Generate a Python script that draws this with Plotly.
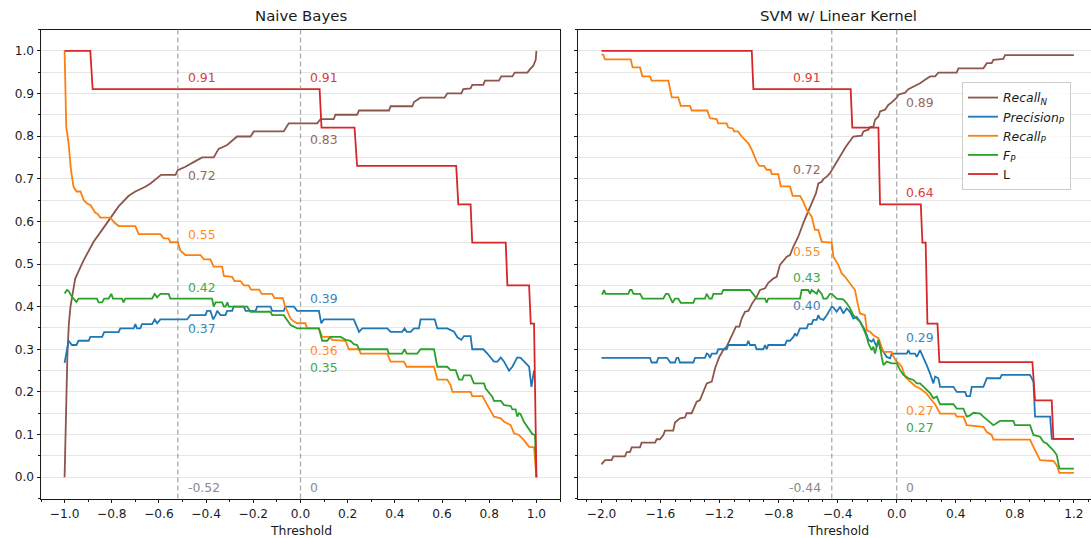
import plotly.graph_objects as go
import numpy as np

# ---------------------------------------------------------------------------
# Metric curves as (threshold, value) pairs
# ---------------------------------------------------------------------------

# Naive Bayes
nb_recall_n = [(-1.0, 0.0), (-0.996, 0.10), (-0.993, 0.18), (-0.988, 0.29), (-0.982, 0.36),
               (-0.975, 0.40), (-0.966, 0.43), (-0.955, 0.466), (-0.919, 0.509), (-0.877, 0.552),
               (-0.841, 0.58), (-0.813, 0.602), (-0.771, 0.635), (-0.728, 0.66), (-0.700, 0.67),
               (-0.658, 0.681), (-0.636, 0.689), (-0.591, 0.709), (-0.530, 0.709), (-0.520, 0.72),
               (-0.488, 0.728), (-0.453, 0.739), (-0.417, 0.75), (-0.368, 0.75), (-0.347, 0.77),
               (-0.311, 0.779), (-0.269, 0.799), (-0.212, 0.799), (-0.198, 0.811), (-0.071, 0.811),
               (-0.050, 0.83), (0.071, 0.83), (0.085, 0.84), (0.141, 0.84), (0.148, 0.85),
               (0.240, 0.85), (0.248, 0.86), (0.375, 0.86), (0.382, 0.87), (0.474, 0.87),
               (0.481, 0.88), (0.509, 0.89), (0.611, 0.89), (0.622, 0.90), (0.682, 0.90),
               (0.690, 0.91), (0.721, 0.912), (0.728, 0.92), (0.775, 0.92), (0.782, 0.93),
               (0.841, 0.93), (0.851, 0.94), (0.898, 0.94), (0.908, 0.949), (0.962, 0.949),
               (0.973, 0.957), (0.987, 0.965), (0.997, 0.979), (1.0, 1.0)]

nb_precision_p = [(-1.0, 0.268), (-0.983, 0.32), (-0.969, 0.31), (-0.950, 0.31), (-0.941, 0.32),
                  (-0.898, 0.32), (-0.891, 0.329), (-0.841, 0.329), (-0.832, 0.34), (-0.771, 0.34),
                  (-0.764, 0.349), (-0.707, 0.349), (-0.700, 0.359), (-0.693, 0.349), (-0.679, 0.349),
                  (-0.672, 0.359), (-0.629, 0.359), (-0.618, 0.37), (-0.608, 0.361), (-0.594, 0.37),
                  (-0.481, 0.37), (-0.467, 0.38), (-0.403, 0.38), (-0.396, 0.39), (-0.382, 0.39),
                  (-0.370, 0.37), (-0.360, 0.38), (-0.353, 0.39), (-0.339, 0.38), (-0.318, 0.38),
                  (-0.311, 0.39), (-0.290, 0.39), (-0.283, 0.40), (-0.240, 0.40), (-0.233, 0.39),
                  (-0.190, 0.39), (-0.184, 0.40), (-0.127, 0.40), (-0.120, 0.39), (-0.071, 0.39),
                  (-0.064, 0.40), (-0.028, 0.40), (-0.014, 0.39), (0.078, 0.39), (0.088, 0.361),
                  (0.099, 0.37), (0.226, 0.37), (0.248, 0.341), (0.262, 0.349), (0.368, 0.349),
                  (0.382, 0.341), (0.431, 0.341), (0.441, 0.349), (0.450, 0.341), (0.467, 0.341),
                  (0.481, 0.349), (0.502, 0.349), (0.509, 0.37), (0.569, 0.37), (0.580, 0.349),
                  (0.622, 0.349), (0.651, 0.341), (0.665, 0.328), (0.682, 0.322), (0.693, 0.331),
                  (0.721, 0.331), (0.728, 0.30), (0.775, 0.30), (0.792, 0.29), (0.806, 0.281),
                  (0.820, 0.271), (0.835, 0.271), (0.849, 0.281), (0.863, 0.271), (0.877, 0.259),
                  (0.884, 0.25), (0.898, 0.259), (0.919, 0.281), (0.933, 0.28), (0.947, 0.271),
                  (0.962, 0.263), (0.969, 0.259), (0.979, 0.212), (0.990, 0.25)]

nb_recall_p = [(-1.0, 1.0), (-0.993, 0.822), (-0.983, 0.783), (-0.973, 0.721), (-0.962, 0.681),
               (-0.950, 0.67), (-0.933, 0.67), (-0.919, 0.65), (-0.905, 0.642), (-0.890, 0.638),
               (-0.870, 0.62), (-0.860, 0.618), (-0.849, 0.609), (-0.806, 0.609), (-0.792, 0.599),
               (-0.771, 0.589), (-0.700, 0.589), (-0.686, 0.57), (-0.594, 0.57), (-0.580, 0.56),
               (-0.559, 0.56), (-0.552, 0.551), (-0.520, 0.551), (-0.509, 0.531), (-0.488, 0.521),
               (-0.424, 0.521), (-0.410, 0.511), (-0.382, 0.511), (-0.368, 0.494), (-0.332, 0.494),
               (-0.325, 0.472), (-0.290, 0.47), (-0.280, 0.46), (-0.255, 0.46), (-0.240, 0.45),
               (-0.220, 0.45), (-0.210, 0.44), (-0.175, 0.44), (-0.165, 0.43), (-0.120, 0.43),
               (-0.110, 0.42), (-0.075, 0.42), (-0.065, 0.40), (-0.050, 0.38), (-0.042, 0.372),
               (-0.028, 0.365), (-0.014, 0.361), (0.021, 0.361), (0.028, 0.349), (0.078, 0.349),
               (0.092, 0.329), (0.127, 0.329), (0.134, 0.322), (0.191, 0.32), (0.205, 0.30),
               (0.248, 0.30), (0.255, 0.29), (0.368, 0.29), (0.382, 0.271), (0.438, 0.271),
               (0.450, 0.259), (0.566, 0.259), (0.580, 0.229), (0.622, 0.229), (0.636, 0.216),
               (0.644, 0.20), (0.721, 0.20), (0.728, 0.19), (0.771, 0.19), (0.792, 0.169),
               (0.820, 0.142), (0.849, 0.138), (0.863, 0.13), (0.891, 0.122), (0.905, 0.103),
               (0.926, 0.099), (0.947, 0.087), (0.969, 0.071), (0.990, 0.07), (1.0, 0.0)]

nb_f_p = [(-1.0, 0.431), (-0.990, 0.439), (-0.983, 0.437), (-0.969, 0.423), (-0.950, 0.411),
          (-0.941, 0.419), (-0.863, 0.419), (-0.856, 0.41), (-0.841, 0.41), (-0.832, 0.419),
          (-0.813, 0.419), (-0.802, 0.43), (-0.795, 0.419), (-0.757, 0.419), (-0.750, 0.41),
          (-0.743, 0.419), (-0.629, 0.419), (-0.618, 0.43), (-0.608, 0.422), (-0.594, 0.43),
          (-0.559, 0.43), (-0.552, 0.419), (-0.375, 0.419), (-0.368, 0.40), (-0.360, 0.41),
          (-0.332, 0.41), (-0.325, 0.40), (-0.318, 0.40), (-0.310, 0.41), (-0.304, 0.40),
          (-0.226, 0.40), (-0.212, 0.388), (-0.127, 0.388), (-0.120, 0.38), (-0.071, 0.38),
          (-0.056, 0.369), (-0.042, 0.357), (-0.014, 0.349), (0.078, 0.349), (0.092, 0.32),
          (0.113, 0.32), (0.127, 0.329), (0.170, 0.329), (0.191, 0.322), (0.212, 0.32),
          (0.226, 0.312), (0.240, 0.31), (0.248, 0.30), (0.368, 0.30), (0.375, 0.29),
          (0.431, 0.29), (0.441, 0.30), (0.450, 0.29), (0.495, 0.29), (0.509, 0.30),
          (0.566, 0.30), (0.580, 0.259), (0.622, 0.259), (0.636, 0.251), (0.658, 0.251),
          (0.672, 0.229), (0.686, 0.229), (0.693, 0.239), (0.721, 0.239), (0.735, 0.22),
          (0.778, 0.22), (0.785, 0.208), (0.813, 0.189), (0.820, 0.179), (0.849, 0.179),
          (0.863, 0.169), (0.891, 0.167), (0.898, 0.159), (0.912, 0.159), (0.919, 0.142),
          (0.926, 0.15), (0.933, 0.148), (0.947, 0.13), (0.962, 0.118), (0.983, 0.101),
          (0.994, 0.099), (1.0, 0.0)]

nb_l = [(-1.0, 1.0), (-0.891, 1.0), (-0.881, 0.91), (0.081, 0.91), (0.089, 0.82), (0.229, 0.82),
        (0.240, 0.73), (0.660, 0.73), (0.669, 0.64), (0.721, 0.64), (0.728, 0.55), (0.870, 0.55),
        (0.877, 0.45), (0.969, 0.45), (0.976, 0.36), (0.990, 0.36), (1.0, 0.0)]

# SVM with linear kernel
svm_recall_n = [(-2.0, 0.03), (-1.976, 0.04), (-1.931, 0.04), (-1.920, 0.049), (-1.841, 0.049),
                (-1.829, 0.059), (-1.807, 0.059), (-1.795, 0.07), (-1.739, 0.07), (-1.728, 0.081),
                (-1.637, 0.081), (-1.626, 0.089), (-1.604, 0.089), (-1.581, 0.099), (-1.570, 0.109),
                (-1.514, 0.109), (-1.502, 0.128), (-1.468, 0.138), (-1.434, 0.14), (-1.423, 0.15),
                (-1.389, 0.15), (-1.355, 0.177), (-1.333, 0.181), (-1.310, 0.20), (-1.287, 0.22),
                (-1.253, 0.224), (-1.231, 0.255), (-1.202, 0.282), (-1.175, 0.298), (-1.152, 0.306),
                (-1.129, 0.322), (-1.107, 0.341), (-1.089, 0.353), (-1.066, 0.353), (-1.050, 0.372),
                (-1.028, 0.388), (-1.005, 0.39), (-0.982, 0.406), (-0.949, 0.423), (-0.926, 0.439),
                (-0.892, 0.443), (-0.870, 0.456), (-0.836, 0.466), (-0.813, 0.47), (-0.791, 0.498),
                (-0.745, 0.517), (-0.723, 0.521), (-0.700, 0.541), (-0.667, 0.564), (-0.633, 0.596),
                (-0.599, 0.623), (-0.565, 0.65), (-0.547, 0.666), (-0.531, 0.689), (-0.508, 0.693),
                (-0.497, 0.699), (-0.474, 0.705), (-0.452, 0.713), (-0.440, 0.72), (-0.429, 0.728),
                (-0.407, 0.74), (-0.396, 0.748), (-0.373, 0.76), (-0.350, 0.772), (-0.328, 0.783),
                (-0.294, 0.799), (-0.237, 0.801), (-0.226, 0.811), (-0.192, 0.815), (-0.181, 0.821),
                (-0.158, 0.822), (-0.147, 0.838), (-0.124, 0.846), (-0.113, 0.858), (-0.079, 0.862),
                (-0.057, 0.873), (-0.034, 0.879), (0.0, 0.89), (0.011, 0.897), (0.057, 0.902),
                (0.079, 0.91), (0.113, 0.916), (0.158, 0.924), (0.192, 0.932), (0.226, 0.94),
                (0.260, 0.94), (0.282, 0.949), (0.406, 0.949), (0.418, 0.959), (0.587, 0.959),
                (0.610, 0.971), (0.643, 0.971), (0.655, 0.979), (0.722, 0.981), (0.734, 0.99),
                (1.2, 0.99)]

svm_precision_p = [(-2.0, 0.28), (-1.671, 0.28), (-1.660, 0.269), (-1.626, 0.269), (-1.615, 0.28),
                   (-1.556, 0.28), (-1.533, 0.269), (-1.502, 0.269), (-1.491, 0.28), (-1.480, 0.28),
                   (-1.468, 0.269), (-1.378, 0.269), (-1.366, 0.28), (-1.299, 0.28), (-1.287, 0.29),
                   (-1.276, 0.288), (-1.265, 0.28), (-1.253, 0.29), (-1.220, 0.29), (-1.209, 0.30),
                   (-1.152, 0.30), (-1.141, 0.31), (-1.017, 0.31), (-1.005, 0.32), (-0.994, 0.31),
                   (-0.960, 0.31), (-0.949, 0.30), (-0.904, 0.30), (-0.892, 0.31), (-0.881, 0.30),
                   (-0.870, 0.31), (-0.757, 0.31), (-0.745, 0.32), (-0.723, 0.32), (-0.700, 0.329),
                   (-0.689, 0.337), (-0.678, 0.331), (-0.655, 0.349), (-0.610, 0.349), (-0.599, 0.359),
                   (-0.576, 0.359), (-0.565, 0.369), (-0.542, 0.369), (-0.531, 0.38), (-0.520, 0.372),
                   (-0.497, 0.369), (-0.474, 0.38), (-0.452, 0.392), (-0.440, 0.40), (-0.429, 0.398),
                   (-0.407, 0.388), (-0.384, 0.40), (-0.362, 0.384), (-0.339, 0.396), (-0.316, 0.388),
                   (-0.294, 0.372), (-0.271, 0.376), (-0.249, 0.365), (-0.226, 0.349), (-0.215, 0.345),
                   (-0.192, 0.322), (-0.170, 0.318), (-0.158, 0.323), (-0.136, 0.306), (-0.124, 0.322),
                   (-0.113, 0.302), (-0.090, 0.294), (-0.068, 0.282), (-0.045, 0.279), (-0.034, 0.29),
                   (0.0, 0.29), (0.068, 0.29), (0.079, 0.298), (0.090, 0.29), (0.124, 0.29),
                   (0.136, 0.282), (0.158, 0.298), (0.181, 0.282), (0.203, 0.263), (0.226, 0.243),
                   (0.248, 0.22), (0.260, 0.236), (0.282, 0.232), (0.294, 0.212), (0.384, 0.212),
                   (0.407, 0.20), (0.463, 0.20), (0.474, 0.19), (0.497, 0.19), (0.508, 0.212),
                   (0.587, 0.212), (0.610, 0.232), (0.700, 0.232), (0.711, 0.24), (0.903, 0.24),
                   (0.926, 0.224), (0.937, 0.142), (1.039, 0.142), (1.050, 0.09), (1.2, 0.09)]

svm_recall_p = [(-2.0, 0.991), (-1.988, 0.991), (-1.976, 0.98), (-1.802, 0.98), (-1.789, 0.961),
                (-1.739, 0.961), (-1.723, 0.94), (-1.671, 0.94), (-1.660, 0.93), (-1.547, 0.93),
                (-1.524, 0.891), (-1.480, 0.891), (-1.463, 0.871), (-1.400, 0.871), (-1.389, 0.86),
                (-1.283, 0.86), (-1.265, 0.842), (-1.220, 0.84), (-1.209, 0.83), (-1.152, 0.83),
                (-1.141, 0.82), (-1.111, 0.818), (-1.102, 0.811), (-1.075, 0.811), (-1.050, 0.799),
                (-1.028, 0.791), (-1.005, 0.783), (-0.982, 0.768), (-0.967, 0.756), (-0.949, 0.74),
                (-0.931, 0.73), (-0.899, 0.73), (-0.881, 0.721), (-0.855, 0.721), (-0.847, 0.711),
                (-0.802, 0.711), (-0.786, 0.682), (-0.723, 0.682), (-0.705, 0.66), (-0.655, 0.66),
                (-0.633, 0.646), (-0.610, 0.627), (-0.576, 0.611), (-0.554, 0.58), (-0.531, 0.58),
                (-0.508, 0.552), (-0.440, 0.55), (-0.429, 0.517), (-0.396, 0.498), (-0.373, 0.478),
                (-0.350, 0.47), (-0.328, 0.459), (-0.305, 0.447), (-0.283, 0.439), (-0.260, 0.40),
                (-0.249, 0.384), (-0.215, 0.38), (-0.203, 0.345), (-0.181, 0.341), (-0.158, 0.333),
                (-0.124, 0.326), (-0.102, 0.306), (-0.090, 0.294), (-0.034, 0.294), (-0.023, 0.284),
                (0.0, 0.27), (0.011, 0.268), (0.034, 0.259), (0.056, 0.236), (0.079, 0.228),
                (0.102, 0.22), (0.124, 0.214), (0.158, 0.208), (0.203, 0.196), (0.226, 0.185),
                (0.260, 0.171), (0.294, 0.149), (0.395, 0.149), (0.407, 0.142), (0.452, 0.142),
                (0.474, 0.122), (0.587, 0.118), (0.610, 0.106), (0.643, 0.099), (0.655, 0.088),
                (0.903, 0.088), (0.926, 0.071), (0.948, 0.056), (0.971, 0.04), (1.061, 0.038),
                (1.084, 0.028), (1.102, 0.01), (1.2, 0.01)]

svm_f_p = [(-2.0, 0.43), (-1.992, 0.43), (-1.983, 0.439), (-1.972, 0.43), (-1.818, 0.43),
           (-1.807, 0.439), (-1.795, 0.439), (-1.784, 0.43), (-1.739, 0.43), (-1.721, 0.419),
           (-1.581, 0.419), (-1.563, 0.43), (-1.547, 0.43), (-1.531, 0.419), (-1.518, 0.409),
           (-1.502, 0.419), (-1.480, 0.419), (-1.463, 0.409), (-1.378, 0.409), (-1.366, 0.419),
           (-1.299, 0.419), (-1.287, 0.43), (-1.269, 0.419), (-1.253, 0.419), (-1.242, 0.43),
           (-1.186, 0.43), (-1.175, 0.439), (-0.994, 0.439), (-0.976, 0.43), (-0.949, 0.419),
           (-0.892, 0.419), (-0.881, 0.409), (-0.870, 0.419), (-0.655, 0.419), (-0.644, 0.439),
           (-0.599, 0.439), (-0.587, 0.43), (-0.576, 0.439), (-0.542, 0.43), (-0.531, 0.439),
           (-0.508, 0.43), (-0.497, 0.419), (-0.474, 0.419), (-0.452, 0.43), (-0.440, 0.43),
           (-0.429, 0.427), (-0.407, 0.419), (-0.362, 0.417), (-0.339, 0.408), (-0.316, 0.396),
           (-0.294, 0.38), (-0.271, 0.372), (-0.249, 0.365), (-0.226, 0.349), (-0.203, 0.329),
           (-0.192, 0.314), (-0.170, 0.298), (-0.158, 0.306), (-0.147, 0.29), (-0.124, 0.322),
           (-0.113, 0.306), (-0.102, 0.282), (-0.090, 0.263), (-0.068, 0.271), (-0.034, 0.267),
           (0.0, 0.267), (0.023, 0.251), (0.045, 0.24), (0.079, 0.232), (0.113, 0.228),
           (0.136, 0.22), (0.158, 0.22), (0.181, 0.212), (0.203, 0.204), (0.226, 0.197),
           (0.248, 0.185), (0.271, 0.189), (0.294, 0.171), (0.384, 0.171), (0.407, 0.161),
           (0.452, 0.161), (0.474, 0.142), (0.497, 0.145), (0.519, 0.151), (0.565, 0.149),
           (0.587, 0.142), (0.632, 0.13), (0.655, 0.122), (0.700, 0.132), (0.790, 0.132),
           (0.801, 0.122), (0.903, 0.122), (0.926, 0.099), (0.971, 0.095), (0.993, 0.083),
           (1.016, 0.079), (1.061, 0.063), (1.084, 0.052), (1.102, 0.02), (1.2, 0.02)]

svm_l = [(-2.0, 1.0), (-0.982, 1.0), (-0.971, 0.91), (-0.312, 0.91), (-0.301, 0.82), (-0.124, 0.82),
         (-0.113, 0.64), (0.163, 0.64), (0.174, 0.55), (0.196, 0.55), (0.208, 0.36), (0.276, 0.36),
         (0.289, 0.27), (0.919, 0.27), (0.937, 0.18), (1.050, 0.18), (1.061, 0.09), (1.2, 0.09)]

# Marked thresholds per model
nb_thresholds = [-0.52, 0.0]
svm_thresholds = [-0.44, 0.0]

# Series metadata (legend order)
series_keys = ["recall_n", "precision_p", "recall_p", "f_p", "l"]
series_names = {
    "recall_n": "<i>Recall</i><sub><i>N</i></sub>",
    "precision_p": "<i>Precision</i><sub><i>P</i></sub>",
    "recall_p": "<i>Recall</i><sub><i>P</i></sub>",
    "f_p": "<i>F</i><sub><i>P</i></sub>",
    "l": "L",
}
series_colors = {
    "recall_n": "#8c564b",
    "precision_p": "#1f77b4",
    "recall_p": "#ff7f0e",
    "f_p": "#2ca02c",
    "l": "#d62728",
}

# Vertical offset (px) of each value label next to the threshold line
label_yshift = {
    ("nb", 0): {"l": 11.6, "recall_n": -5, "recall_p": 7.4, "f_p": 11.4, "precision_p": -9.3},
    ("nb", 1): {"l": 11.6, "recall_n": -16, "precision_p": 12, "recall_p": -27, "f_p": -39},
    ("svm", 0): {"l": 11.6, "recall_n": 1, "recall_p": -9.3, "f_p": 16.1, "precision_p": 1.3},
    ("svm", 1): {"recall_n": -4.3, "l": 11.7, "precision_p": 15.8, "recall_p": -48.3, "f_p": -64.3},
}

W, H = 1091, 538
FONT = "DejaVu Sans"
INK = "#1a1a1a"
GRID = "#e6e6e6"
VLINE = "rgba(128,128,128,0.65)"

panels = [
    dict(key="nb", title="Naive Bayes", xa="x", ya="y",
         data={"recall_n": nb_recall_n, "precision_p": nb_precision_p, "recall_p": nb_recall_p,
               "f_p": nb_f_p, "l": nb_l},
         thresholds=nb_thresholds, center_px=300.5),
    dict(key="svm", title="SVM w/ Linear Kernel", xa="x2", ya="y2",
         data={"recall_n": svm_recall_n, "precision_p": svm_precision_p, "recall_p": svm_recall_p,
               "f_p": svm_f_p, "l": svm_l},
         thresholds=svm_thresholds, center_px=838),
]

fig = go.Figure()
annotations = []
shapes = []

for pi, panel in enumerate(panels):
    for key in series_keys:
        pts = np.array(panel["data"][key])
        fig.add_trace(go.Scatter(
            x=pts[:, 0], y=pts[:, 1], mode="lines",
            name=series_names[key],
            line=dict(color=series_colors[key], width=1.8),
            xaxis=panel["xa"], yaxis=panel["ya"],
            showlegend=(pi == 0),
            hoverinfo="skip",
        ))

    for ti, t in enumerate(panel["thresholds"]):
        # labels sit left of the line for the SVM's first threshold, right otherwise
        on_left = panel["key"] == "svm" and ti == 0
        xanchor = "right" if on_left else "left"
        xshift = -8.4 if on_left else 7.7

        shapes.append(dict(type="line", xref=panel["xa"], yref=f"{panel['ya']} domain",
                           x0=t, x1=t, y0=0, y1=1,
                           line=dict(color=VLINE, width=1.3, dash="5px,3px")))
        annotations.append(dict(xref=panel["xa"], yref=panel["ya"], x=t, y=-0.025,
                                text=f"{t:g}", showarrow=False, xanchor=xanchor, yanchor="middle",
                                xshift=xshift, font=dict(family=FONT, size=12.4, color="#8a8a8a")))

        for key, dy in label_yshift[(panel["key"], ti)].items():
            pts = np.array(panel["data"][key])
            val = float(np.interp(t, pts[:, 0], pts[:, 1]))
            annotations.append(dict(xref=panel["xa"], yref=panel["ya"], x=t, y=val,
                                    text=f"{val:.2f}", showarrow=False,
                                    xanchor=xanchor, yanchor="middle",
                                    xshift=xshift, yshift=dy, opacity=0.9,
                                    font=dict(family=FONT, size=12.4, color=series_colors[key])))

    annotations.append(dict(xref="paper", yref="paper", x=panel["center_px"] / W, y=1 - 16 / H,
                            text=panel["title"], showarrow=False, xanchor="center", yanchor="middle",
                            font=dict(family=FONT, size=14.9, color=INK)))
    annotations.append(dict(xref="paper", yref="paper", x=panel["center_px"] / W, y=1 - 530 / H,
                            text="Threshold", showarrow=False, xanchor="center", yanchor="middle",
                            font=dict(family=FONT, size=12.4, color=INK)))

y_dom = [1 - 498.5 / H, 1 - 29.5 / H]
tickfont = dict(family=FONT, size=12.2, color=INK)

common_x = dict(ticks="outside", ticklen=3.5, tickwidth=0.8, tickcolor=INK,
                showline=True, linecolor=INK, linewidth=1, mirror=True,
                showgrid=False, zeroline=False, tickformat=".1f", tick0=0,
                tickfont=tickfont,
                minor=dict(dtick=0.1, ticks="outside", ticklen=2, tickwidth=0.6,
                           tickcolor=INK, showgrid=False))
common_y = dict(range=[-0.05, 1.05], domain=y_dom, dtick=0.1, tick0=0, tickformat=".1f",
                ticks="outside", ticklen=3.5, tickwidth=0.8, tickcolor=INK,
                showline=True, linecolor=INK, linewidth=1,
                showgrid=True, gridcolor=GRID, gridwidth=1, zeroline=False,
                tickfont=tickfont,
                minor=dict(dtick=0.05, ticks="outside", ticklen=2, tickwidth=0.6,
                           tickcolor=INK, showgrid=True, gridcolor=GRID, gridwidth=1))

fig.update_layout(
    width=W, height=H,
    margin=dict(l=0, r=0, t=0, b=0),
    template="none",
    paper_bgcolor="white", plot_bgcolor="white",
    font=dict(family=FONT, size=12.4, color=INK),
    xaxis=dict(domain=[41 / W, 560 / W], range=[-1.1, 1.1], dtick=0.2, anchor="y", **common_x),
    yaxis=dict(anchor="x", mirror=True, **common_y),
    xaxis2=dict(domain=[578.3 / W, 1.0], range=[-2.157, 1.316], dtick=0.4, anchor="y2", **common_x),
    yaxis2=dict(anchor="x2", mirror=False, showticklabels=False, **common_y),
    legend=dict(x=962 / W, y=1 - 82 / H, xanchor="left", yanchor="top",
                bgcolor="rgba(255,255,255,0.8)", bordercolor="#cccccc", borderwidth=1,
                font=dict(family=FONT, size=12.4, color=INK), tracegroupgap=0),
    annotations=annotations,
    shapes=shapes,
    showlegend=True,
)

fig.write_html("out.html")
